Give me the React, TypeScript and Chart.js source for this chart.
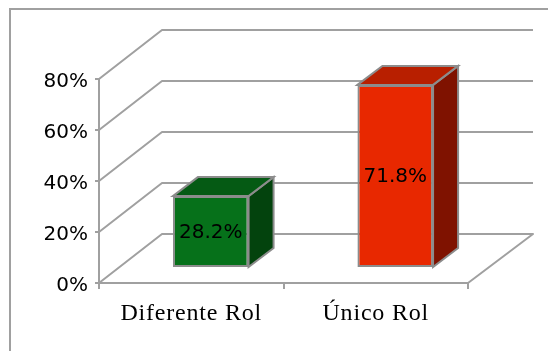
import { useEffect, useRef } from "react";
import { Chart, registerables } from "chart.js";

Chart.register(...registerables);

const categories = ["Diferente Rol", "Único Rol"];
const values = [28.2, 71.8];
const frontColors = ["#06711a", "#e82800"];
const topColors = ["#055a14", "#b81f00"];
const sideColors = ["#03430d", "#7f1200"];
const yTicks = [0, 20, 40, 60, 80];

const LINE = "#a0a0a0";
const EDGE = "#8c8c8c";
const WALL_DX = 63;
const WALL_DY = -49;
const BAR_DX = 19.5;
const BAR_DY = -15;
const CUBE_DX = 25;
const CUBE_DY = -19;

const poly = (ctx: CanvasRenderingContext2D, pts: number[][], fill: string) => {
  ctx.beginPath();
  pts.forEach(([x, y], i) => (i ? ctx.lineTo(x, y) : ctx.moveTo(x, y)));
  ctx.closePath();
  ctx.fillStyle = fill;
  ctx.fill();
  ctx.strokeStyle = EDGE;
  ctx.lineWidth = 2;
  ctx.stroke();
};

const cube3d = {
  id: "cube3d",
  beforeDraw(chart: any) {
    const ctx = chart.ctx;
    ctx.save();
    ctx.strokeStyle = LINE;
    ctx.lineWidth = 2;
    ctx.beginPath();
    ctx.moveTo(10, chart.height);
    ctx.lineTo(10, 9);
    ctx.lineTo(chart.width, 9);
    ctx.stroke();
    ctx.restore();
  },
  beforeDatasetsDraw(chart: any) {
    const ctx = chart.ctx;
    const { left, right } = chart.chartArea;
    const yScale = chart.scales.y;
    ctx.save();
    ctx.strokeStyle = LINE;
    ctx.lineWidth = 2;
    ctx.lineJoin = "round";
    yTicks.forEach((t) => {
      const y = yScale.getPixelForValue(t);
      ctx.beginPath();
      ctx.moveTo(left, y);
      ctx.lineTo(left + WALL_DX, y + WALL_DY);
      ctx.lineTo(right + WALL_DX + 2, y + WALL_DY);
      if (t === 0) ctx.lineTo(right, y);
      ctx.stroke();
    });
    ctx.restore();

    ctx.save();
    ctx.translate(BAR_DX, BAR_DY);
    chart.getDatasetMeta(0).data.forEach((bar: any, i: number) => {
      const l = bar.x - bar.width / 2;
      const r = bar.x + bar.width / 2;
      const t = bar.y;
      const b = bar.base;
      poly(ctx, [[r, t], [r + CUBE_DX, t + CUBE_DY], [r + CUBE_DX, b + CUBE_DY], [r, b]], sideColors[i]);
      poly(ctx, [[l, t], [l + CUBE_DX, t + CUBE_DY], [r + CUBE_DX, t + CUBE_DY], [r, t]], topColors[i]);
    });
    ctx.restore();
    chart.ctx.save();
    chart.ctx.translate(BAR_DX, BAR_DY);
  },
  afterDatasetsDraw(chart: any) {
    const ctx = chart.ctx;
    ctx.fillStyle = "#000";
    ctx.font = '20px "DejaVu Sans"';
    ctx.textAlign = "center";
    ctx.textBaseline = "middle";
    chart.getDatasetMeta(0).data.forEach((bar: any, i: number) => {
      ctx.fillText(`${values[i]}%`, bar.x, (bar.y + bar.base) / 2 + 1);
    });
    ctx.restore();
    (ctx as any).letterSpacing = "0.8px";
  },
  afterDraw(chart: any) {
    (chart.ctx as any).letterSpacing = "0px";
  },
};

export default function App() {
  const ref = useRef<HTMLCanvasElement>(null);
  useEffect(() => {
    document.body.style.margin = "0";
    const chart = new Chart(ref.current!, {
      type: "bar",
      data: {
        labels: categories,
        datasets: [
          {
            data: values,
            backgroundColor: frontColors,
            borderColor: EDGE,
            borderWidth: 2,
            borderSkipped: false,
            barPercentage: 0.41,
            categoryPercentage: 1,
          },
        ],
      },
      options: {
        responsive: false,
        animation: false,
        layout: { padding: { top: 79, right: 80, left: 0, bottom: 0 } },
        plugins: { legend: { display: false }, tooltip: { enabled: false } },
        scales: {
          x: {
            afterFit: (s: any) => {
              s.height = 68;
            },
            grid: { drawOnChartArea: false, color: LINE, lineWidth: 2, tickLength: 6, offset: true },
            border: { color: LINE, width: 2 },
            ticks: {
              z: 1,
              color: "#000",
              padding: 10,
              font: { family: '"Liberation Serif"', size: 24 },
              maxRotation: 0,
            },
          },
          y: {
            min: 0,
            max: 80,
            afterFit: (s: any) => {
              s.width = 99;
            },
            grid: { drawOnChartArea: false, color: LINE, lineWidth: 2, tickLength: 4 },
            border: { color: LINE, width: 2 },
            ticks: {
              stepSize: 20,
              color: "#000",
              padding: 7,
              labelOffset: 3,
              font: { family: '"DejaVu Sans"', size: 20 },
              callback: (v: any) => `${v}%`,
            },
          },
        },
      },
      plugins: [cube3d],
    } as any);
    return () => chart.destroy();
  }, []);
  return <canvas ref={ref} width={548} height={351} style={{ display: "block" }} />;
}
